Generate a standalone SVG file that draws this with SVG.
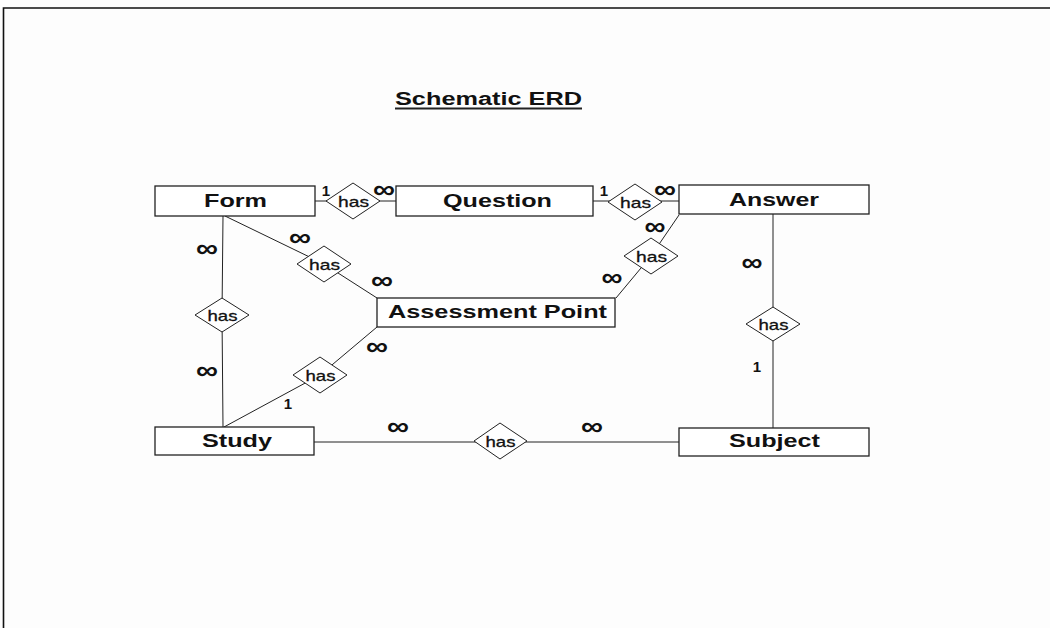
<svg xmlns="http://www.w3.org/2000/svg" width="1050" height="628" viewBox="0 0 1050 628">
<style>
.bg{fill:#fdfdfd}
.frame{fill:none;stroke:#111;stroke-width:1.6}
.ent{fill:#fff;stroke:#222;stroke-width:1.3}
.rel{fill:#fff;stroke:#222;stroke-width:1}
.ln{fill:none;stroke:#222;stroke-width:1}
.et{font-family:"Liberation Sans",Arial,sans-serif;font-weight:bold;font-size:18px;fill:#111;text-anchor:middle}
.ht{font-family:"Liberation Sans",Arial,sans-serif;font-size:15px;fill:#111;stroke:#111;stroke-width:0.3;text-anchor:middle}
.inf{font-family:"Liberation Sans",Arial,sans-serif;font-weight:bold;font-size:26px;fill:#111;text-anchor:middle}
.one{font-family:"Liberation Sans",Arial,sans-serif;font-weight:bold;font-size:15px;fill:#111;text-anchor:middle}
</style>
<rect class="bg" x="0" y="0" width="1050" height="628"/>
<path class="frame" d="M3.5,628 V8 H1050"/>
<g id="title">
<text class="et" x="488.5" y="105" textLength="187" lengthAdjust="spacingAndGlyphs">Schematic ERD</text>
<line x1="395" y1="108.5" x2="582" y2="108.5" stroke="#222" stroke-width="2"/>
</g>
<g id="connectors">
<line class="ln" x1="315" y1="201" x2="396" y2="201"/>
<line class="ln" x1="593" y1="201" x2="679" y2="201"/>
<polyline class="ln" points="225,216 324,264 377,298"/>
<polyline class="ln" points="679,215 651,256 616,298"/>
<polyline class="ln" points="223,216 222,315 223,427"/>
<polyline class="ln" points="224,427 320,375 377,327"/>
<line class="ln" x1="773" y1="214" x2="773" y2="428"/>
<line class="ln" x1="314" y1="442" x2="679" y2="442"/>
</g>
<g id="form"><rect class="ent" x="155" y="186" width="160" height="30"/><text class="et" x="235.5" y="207" textLength="63" lengthAdjust="spacingAndGlyphs">Form</text></g>
<g id="question"><rect class="ent" x="396" y="186" width="197" height="30"/><text class="et" x="497.5" y="207" textLength="109" lengthAdjust="spacingAndGlyphs">Question</text></g>
<g id="answer"><rect class="ent" x="679" y="185" width="190" height="29"/><text class="et" x="774" y="206" textLength="90" lengthAdjust="spacingAndGlyphs">Answer</text></g>
<g id="assessment"><rect class="ent" x="377" y="298" width="238" height="29"/><text class="et" x="497.5" y="318" textLength="219" lengthAdjust="spacingAndGlyphs">Assessment Point</text></g>
<g id="study"><rect class="ent" x="155" y="427" width="159" height="28"/><text class="et" x="237" y="447" textLength="70" lengthAdjust="spacingAndGlyphs">Study</text></g>
<g id="subject"><rect class="ent" x="679" y="428" width="190" height="28"/><text class="et" x="774.5" y="447" textLength="91" lengthAdjust="spacingAndGlyphs">Subject</text></g>
<g id="rel-form-question"><polygon class="rel" points="326,201 353,183 380,201 353,219"/><text class="ht" x="353.5" y="207" textLength="31" lengthAdjust="spacingAndGlyphs">has</text></g>
<g id="rel-question-answer"><polygon class="rel" points="608,202 635,184 662,202 635,220"/><text class="ht" x="635.5" y="208" textLength="31" lengthAdjust="spacingAndGlyphs">has</text></g>
<g id="rel-form-assessment"><polygon class="rel" points="297,264 324,246 351,264 324,282"/><text class="ht" x="324.5" y="270" textLength="31" lengthAdjust="spacingAndGlyphs">has</text></g>
<g id="rel-answer-assessment"><polygon class="rel" points="624,256 651,238 678,256 651,274"/><text class="ht" x="651.5" y="262" textLength="31" lengthAdjust="spacingAndGlyphs">has</text></g>
<g id="rel-form-study"><polygon class="rel" points="195,315 222,298 249,315 222,332"/><text class="ht" x="222.5" y="321" textLength="30" lengthAdjust="spacingAndGlyphs">has</text></g>
<g id="rel-study-assessment"><polygon class="rel" points="293,375 320,357 347,375 320,393"/><text class="ht" x="320.5" y="381" textLength="30" lengthAdjust="spacingAndGlyphs">has</text></g>
<g id="rel-answer-subject"><polygon class="rel" points="746,324 773,307 800,324 773,341"/><text class="ht" x="773.5" y="330" textLength="30" lengthAdjust="spacingAndGlyphs">has</text></g>
<g id="rel-study-subject"><polygon class="rel" points="474,441 500,423 527,441 500,459"/><text class="ht" x="500.5" y="447" textLength="30" lengthAdjust="spacingAndGlyphs">has</text></g>
<g id="cardinalities">
<text class="one" x="326" y="196">1</text>
<text class="inf" x="384" y="198" textLength="22" lengthAdjust="spacingAndGlyphs">∞</text>
<text class="one" x="604" y="196">1</text>
<text class="inf" x="665" y="198" textLength="22" lengthAdjust="spacingAndGlyphs">∞</text>
<text class="inf" x="207" y="257" textLength="22" lengthAdjust="spacingAndGlyphs">∞</text>
<text class="inf" x="300" y="246" textLength="22" lengthAdjust="spacingAndGlyphs">∞</text>
<text class="inf" x="382" y="289" textLength="22" lengthAdjust="spacingAndGlyphs">∞</text>
<text class="inf" x="655" y="235" textLength="21" lengthAdjust="spacingAndGlyphs">∞</text>
<text class="inf" x="612" y="286" textLength="21" lengthAdjust="spacingAndGlyphs">∞</text>
<text class="inf" x="752" y="271" textLength="21" lengthAdjust="spacingAndGlyphs">∞</text>
<text class="one" x="757" y="372">1</text>
<text class="inf" x="207" y="379" textLength="22" lengthAdjust="spacingAndGlyphs">∞</text>
<text class="inf" x="377" y="355" textLength="22" lengthAdjust="spacingAndGlyphs">∞</text>
<text class="one" x="288" y="409">1</text>
<text class="inf" x="398" y="435" textLength="22" lengthAdjust="spacingAndGlyphs">∞</text>
<text class="inf" x="592" y="435" textLength="22" lengthAdjust="spacingAndGlyphs">∞</text>
</g>
</svg>
